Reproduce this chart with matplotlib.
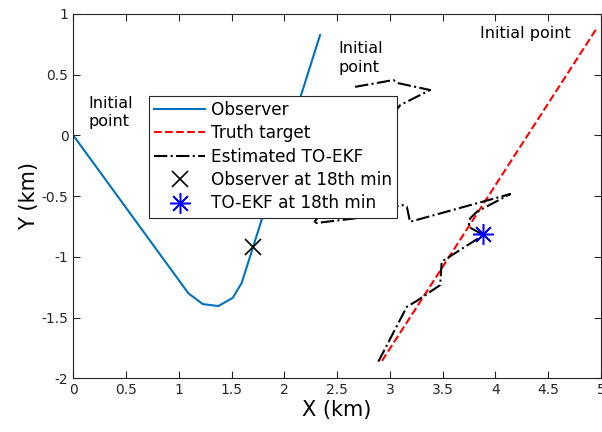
import matplotlib
matplotlib.use("Agg")
import matplotlib.pyplot as plt

# --- data (km) ---
obs_x = [0.0, 1.09, 1.227, 1.374, 1.511, 1.596, 2.338]
obs_y = [0.0, -1.30, -1.389, -1.405, -1.337, -1.213, 0.827]

truth_x = [4.95, 2.907]
truth_y = [0.87, -1.88]

est_x = [2.67, 3.033, 3.08, 3.381, 3.097, 2.75, 2.33, 2.275, 2.67, 3.113, 3.16, 3.19,
         4.139, 3.824, 3.76, 3.744, 3.886, 3.49, 3.476, 3.255, 3.16, 2.876]
est_y = [0.40, 0.456, 0.43, 0.374, 0.25, -0.15, -0.66, -0.724, -0.683, -0.573, -0.587, -0.711,
         -0.483, -0.628, -0.683, -0.752, -0.82, -1.04, -1.232, -1.362, -1.411, -1.886]

obs_18_x, obs_18_y = 1.70, -0.92
ekf_18_x, ekf_18_y = 3.886, -0.815

xticks = [0, 0.5, 1, 1.5, 2, 2.5, 3, 3.5, 4, 4.5, 5]
xtick_labels = ["0", "0.5", "1", "1.5", "2", "2.5", "3", "3.5", "4", "4.5", "5"]
yticks = [-2, -1.5, -1, -0.5, 0, 0.5, 1]
ytick_labels = ["-2", "-1.5", "-1", "-0.5", "0", "0.5", "1"]

plt.rcParams['font.family'] = ['DejaVu Sans']
plt.rcParams['axes.unicode_minus'] = False

fig = plt.figure(figsize=(6.02, 4.32), dpi=100)
ax = fig.add_axes([0.1218, 0.1243, 0.8766, 0.8433])

ax.plot(obs_x, obs_y, color='#0072BD', lw=1.5, label='Observer')
ax.plot(truth_x, truth_y, 'r--', lw=1.5, label='Truth target')
ax.plot(est_x, est_y, 'k-.', lw=1.5, label='Estimated TO-EKF')
ax.plot(obs_18_x, obs_18_y, 'kx', ms=12, mew=1.2, ls='none', label='Observer at 18th min')
ax.plot(ekf_18_x, ekf_18_y, marker=(8, 2, 0), color='blue', ms=15, mew=1.1, ls='none',
        label='TO-EKF at 18th min')

ax.text(0.14, 0.19, "Initial\npoint", fontsize=11.5, va='center', ha='left', linespacing=1.3)
ax.text(2.51, 0.64, "Initial\npoint", fontsize=11.5, va='center', ha='left', linespacing=1.3)
ax.text(3.855, 0.84, "Initial point", fontsize=11.5, va='center', ha='left')

ax.set_xlim(0, 5)
ax.set_ylim(-2, 1)
ax.set_xticks(xticks)
ax.set_xticklabels(xtick_labels)
ax.set_yticks(yticks)
ax.set_yticklabels(ytick_labels)
ax.tick_params(direction='in', length=5, width=0.8, top=True, right=True,
               labelsize=10, colors='#262626')
for s in ax.spines.values():
    s.set_color('#262626')
    s.set_linewidth(0.8)

ax.set_xlabel("X (km)", fontsize=15, labelpad=2)
ax.set_ylabel("Y (km)", fontsize=15, labelpad=2)

leg = ax.legend(loc='upper left', bbox_to_anchor=(0.248, 0.7785), bbox_transform=fig.transFigure,
                borderaxespad=0, fontsize=12.2, handlelength=3.0, handletextpad=0.36,
                labelspacing=0.32, borderpad=0.3, fancybox=False, framealpha=1)
leg.get_frame().set_edgecolor('#262626')
leg.get_frame().set_linewidth(0.8)

fig.savefig("out.png", dpi=100)
